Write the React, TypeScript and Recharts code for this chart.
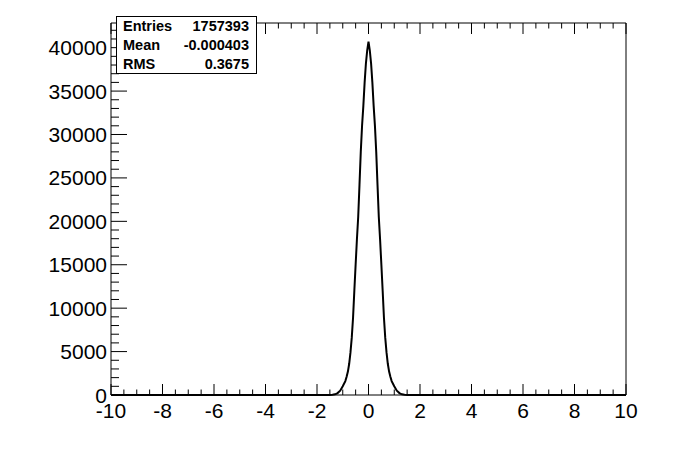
import React from "react";
import { LineChart, Line, XAxis, YAxis } from "recharts";

// bin centres (finer near the peak)
const binX = [
  -10, -1.6, -1.5, -1.4, -1.3, -1.2, -1.1, -1.0, -0.9, -0.85, -0.8, -0.75, -0.7, -0.65, -0.6,
  -0.55, -0.5, -0.45, -0.4, -0.35, -0.3, -0.25, -0.2, -0.15, -0.1, -0.05, 0, 0.05, 0.1, 0.15,
  0.2, 0.25, 0.3, 0.35, 0.4, 0.45, 0.5, 0.55, 0.6, 0.65, 0.7, 0.75, 0.8, 0.85, 0.9, 1.0, 1.1,
  1.2, 1.3, 1.4, 1.5, 1.6, 10,
];
const counts = [
  0, 0, 5, 25, 80, 220, 500, 1000, 1600, 2100, 2700, 3600, 4900, 6600, 8900,
  12000, 15000, 17900, 20500, 24200, 28000, 31000, 33300, 36000, 38200, 39700, 40700, 39700, 38200, 36000,
  33300, 31000, 28000, 24200, 20500, 17900, 15000, 12000, 8900, 6600, 4900, 3600, 2700, 2100, 1600, 1000, 500,
  220, 80, 25, 5, 0, 0,
];

const xMajorTicks = [-10, -8, -6, -4, -2, 0, 2, 4, 6, 8, 10];
const yMajorTicks = [0, 5000, 10000, 15000, 20000, 25000, 30000, 35000, 40000];
const yMax = 42840;

const statsRows = [
  ["Entries", "1757393"],
  ["Mean", "-0.000403"],
  ["RMS", "0.3675"],
];

const font = "'Liberation Sans', Arial, Helvetica, sans-serif";
const labelSize = 21;

// minor ticks: 4 subdivisions on x, 5 on y
const xTicks: number[] = [];
for (let i = 0; i < xMajorTicks.length; i++) {
  xTicks.push(xMajorTicks[i]);
  if (i < xMajorTicks.length - 1) for (let k = 1; k < 4; k++) xTicks.push(xMajorTicks[i] + k * 0.5);
}
const yTicks: number[] = [];
for (let v = 0; v <= yMax; v += 1000) yTicks.push(v);

const data = binX.map((x, i) => ({ x, count: counts[i] }));

const isXMajor = (v: number) => xMajorTicks.some((m) => Math.abs(m - v) < 1e-6);
const isYMajor = (v: number) => yMajorTicks.includes(v);

function BottomTick({ x, y, payload }: any) {
  const major = isXMajor(payload.value);
  return (
    <g>
      <line x1={x} x2={x} y1={y} y2={y - (major ? 11 : 5.5)} stroke="#000" />
      {major && (
        <text x={x} y={y + 23} textAnchor="middle" fontSize={labelSize} fontFamily={font} fill="#000">
          {payload.value}
        </text>
      )}
    </g>
  );
}

function TopTick({ x, y, payload }: any) {
  const major = isXMajor(payload.value);
  return <line x1={x} x2={x} y1={y} y2={y + (major ? 11 : 5.5)} stroke="#000" />;
}

function LeftTick({ x, y, payload }: any) {
  const major = isYMajor(payload.value);
  return (
    <g>
      <line x1={x} x2={x + (major ? 16 : 8)} y1={y} y2={y} stroke="#000" />
      {major && (
        <text x={x - 4} y={y + 7.5} textAnchor="end" fontSize={labelSize} fontFamily={font} fill="#000">
          {payload.value}
        </text>
      )}
    </g>
  );
}

function RightTick({ x, y, payload }: any) {
  const major = isYMajor(payload.value);
  return <line x1={x} x2={x - (major ? 16 : 8)} y1={y} y2={y} stroke="#000" />;
}

function StatsBox() {
  const left = 116;
  const top = 16;
  const w = 140;
  const rowH = 19;
  return (
    <svg
      width={696}
      height={472}
      style={{ position: "absolute", left: 0, top: 0, pointerEvents: "none" }}
    >
      <rect x={left + 0.5} y={top + 0.5} width={w} height={rowH * 3} fill="#fff" stroke="#000" />
      {statsRows.map(([k, v], i) => (
        <g key={k} fontFamily={font} fontWeight="bold" fontSize={14.5} fill="#000">
          <text x={left + 7} y={top + rowH * i + 15}>
            {k}
          </text>
          <text x={left + w - 7} y={top + rowH * i + 15} textAnchor="end">
            {v}
          </text>
        </g>
      ))}
    </svg>
  );
}

export default function App() {
  return (
    <div style={{ position: "absolute", left: 0, top: 0, width: 696, height: 472, background: "#fff" }}>
      <LineChart width={696} height={472} data={data} margin={{ top: 0, right: 0, bottom: 0, left: 0 }}>
        <XAxis
          xAxisId="bottom"
          dataKey="x"
          type="number"
          domain={[-10, 10]}
          ticks={xTicks}
          interval={0}
          height={77}
          tickSize={0}
          tickMargin={0}
          tickLine={false}
          axisLine={{ stroke: "#000" }}
          tick={<BottomTick />}
        />
        <XAxis
          xAxisId="top"
          orientation="top"
          dataKey="x"
          type="number"
          domain={[-10, 10]}
          ticks={xTicks}
          interval={0}
          height={23}
          tickSize={0}
          tickMargin={0}
          tickLine={false}
          axisLine={{ stroke: "#000" }}
          tick={<TopTick />}
        />
        <YAxis
          yAxisId="left"
          type="number"
          domain={[0, yMax]}
          ticks={yTicks}
          interval={0}
          width={111}
          tickSize={0}
          tickMargin={0}
          tickLine={false}
          axisLine={{ stroke: "#000" }}
          tick={<LeftTick />}
        />
        <YAxis
          yAxisId="right"
          orientation="right"
          type="number"
          domain={[0, yMax]}
          ticks={yTicks}
          interval={0}
          width={70}
          tickSize={0}
          tickMargin={0}
          tickLine={false}
          axisLine={{ stroke: "#000" }}
          tick={<RightTick />}
        />
        <Line
          xAxisId="bottom"
          yAxisId="left"
          dataKey="count"
          type="linear"
          stroke="#000"
          strokeWidth={2}
          dot={false}
          isAnimationActive={false}
        />
      </LineChart>
      <StatsBox />
    </div>
  );
}
